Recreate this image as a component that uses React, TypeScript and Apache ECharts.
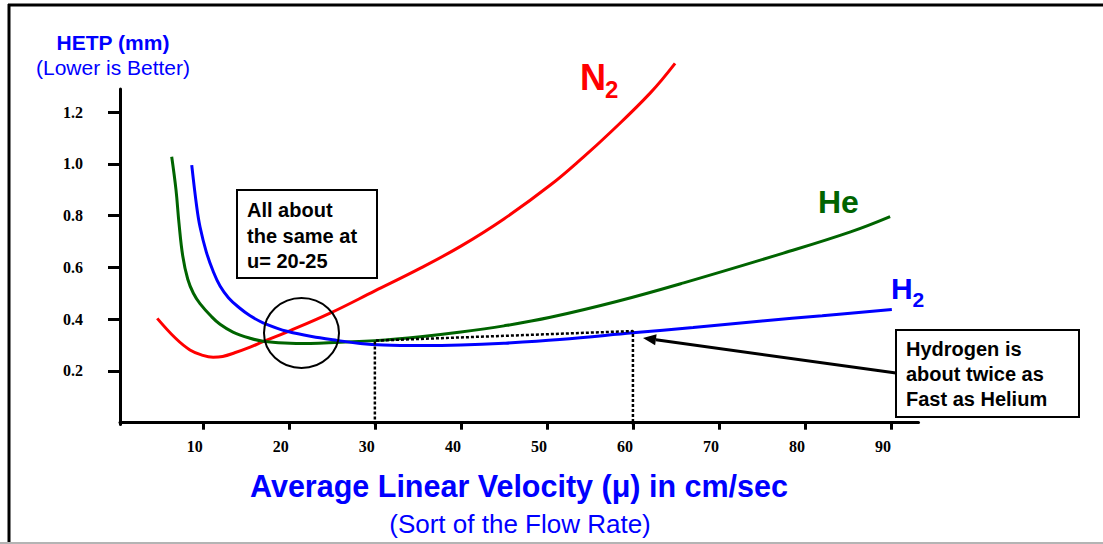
import React, { useEffect, useRef } from "react";
import * as echarts from "echarts";

// ---------- data ----------
const xTickValues = [10, 20, 30, 40, 50, 60, 70, 80, 90];
const yTickValues = [0.2, 0.4, 0.6, 0.8, 1.0, 1.2];

const n2Velocity = [4.7, 6.8, 8.5, 10.0, 11.2, 12.3, 13.7, 15.5, 17.0, 19.9, 24.8, 30.0, 35.3, 40.0, 45.0, 50.4, 54.2, 57.3, 62.0, 64.9];
const n2Hetp = [0.403, 0.327, 0.281, 0.26, 0.253, 0.256, 0.27, 0.292, 0.313, 0.352, 0.423, 0.509, 0.597, 0.682, 0.787, 0.918, 1.025, 1.119, 1.273, 1.388];

const heVelocity = [6.38, 6.88, 7.23, 7.66, 8.24, 8.9, 9.67, 11.0, 12.0, 13.5, 15.5, 17.0, 19.5, 22.5, 25.9, 30.0, 35.3, 40.0, 45.0, 50.4, 58.1, 65.9, 77.5, 85.3, 89.9];
const heHetp = [1.027, 0.899, 0.77, 0.645, 0.555, 0.5, 0.46, 0.41, 0.38, 0.35, 0.326, 0.315, 0.308, 0.306, 0.311, 0.317, 0.332, 0.35, 0.374, 0.407, 0.468, 0.54, 0.655, 0.737, 0.796];

const h2Velocity = [8.71, 9.29, 9.67, 10.4, 11.2, 12.0, 13.0, 14.2, 15.5, 17.0, 19.9, 23.6, 25.6, 28.3, 31.0, 35.3, 40.0, 45.0, 51.5, 60.0, 67.0, 75.0, 82.0, 90.1];
const h2Hetp = [0.995, 0.834, 0.757, 0.66, 0.585, 0.528, 0.482, 0.445, 0.413, 0.386, 0.352, 0.328, 0.318, 0.306, 0.3, 0.298, 0.3, 0.307, 0.321, 0.347, 0.368, 0.393, 0.413, 0.437];

const guideVelocity = [30, 30, 60, 60];
const guideHetp = [-0.007, 0.317, 0.354, -0.007];

const zip = (xs: number[], ys: number[]) => xs.map((x, i) => [x, ys[i]]);

const SANS = "'Liberation Sans', Arial, sans-serif";
const SERIF = "'Liberation Serif', 'Times New Roman', serif";

export default function App() {
  const ref = useRef<HTMLDivElement>(null);

  useEffect(() => {
    if (!ref.current) return;
    const chart = echarts.init(ref.current, undefined, { renderer: "svg" });

    const arrowTip = [643, 338];
    const arrowStart = [896, 373];
    const dx = arrowStart[0] - arrowTip[0];
    const dy = arrowStart[1] - arrowTip[1];
    const len = Math.hypot(dx, dy);
    const ux = dx / len, uy = dy / len;
    const headLen = 13, headHalf = 5.5;
    const bx = arrowTip[0] + ux * headLen, by = arrowTip[1] + uy * headLen;

    const curve = (name: string, xs: number[], ys: number[], color: string, z: number) => ({
      name,
      type: "line",
      data: zip(xs, ys),
      smooth: 0.4,
      showSymbol: false,
      clip: false,
      lineStyle: { color, width: 3 },
      z,
    });

    chart.setOption({
      animation: false,
      backgroundColor: "#ffffff",
      grid: { left: 120, right: 184.5, top: 89, bottom: 119.5, containLabel: false },
      xAxis: {
        type: "value",
        min: 0.37,
        max: 93.2,
        axisLine: { show: true, lineStyle: { color: "#000", width: 3 } },
        axisTick: { show: true, customValues: xTickValues, length: 7, lineStyle: { color: "#000", width: 3 } },
        axisLabel: {
          customValues: xTickValues,
          color: "#000",
          fontFamily: SERIF,
          fontWeight: "bold",
          fontSize: 16,
          margin: 14,
          padding: [0, 16, 0, 0],
          formatter: (v: number) => String(v),
        },
        splitLine: { show: false },
      },
      yAxis: {
        type: "value",
        min: -0.007,
        max: 1.289,
        axisLine: { show: true, lineStyle: { color: "#000", width: 3 } },
        axisTick: { show: true, customValues: yTickValues, length: 12, lineStyle: { color: "#000", width: 3 } },
        axisLabel: {
          customValues: yTickValues,
          color: "#000",
          fontFamily: SERIF,
          fontWeight: "bold",
          fontSize: 16,
          margin: 37,
          formatter: (v: number) => v.toFixed(1),
        },
        splitLine: { show: false },
      },
      series: [
        curve("N2", n2Velocity, n2Hetp, "#ff0000", 3),
        curve("He", heVelocity, heHetp, "#006400", 3),
        curve("H2", h2Velocity, h2Hetp, "#0000ff", 4),
        {
          name: "guide",
          type: "line",
          data: zip(guideVelocity, guideHetp),
          showSymbol: false,
          lineStyle: { color: "#000", width: 2.5, type: [3, 2] },
          z: 5,
        },
      ],
      graphic: [
        // outer frame
        { type: "line", shape: { x1: 8, y1: 5, x2: 1103, y2: 5 }, style: { stroke: "#000", lineWidth: 3 }, silent: true },
        { type: "line", shape: { x1: 9, y1: 4, x2: 9, y2: 544 }, style: { stroke: "#000", lineWidth: 3 }, silent: true },
        { type: "line", shape: { x1: 0, y1: 543, x2: 1103, y2: 543 }, style: { stroke: "#b4b4b4", lineWidth: 2 }, silent: true },
        // y axis title
        { type: "text", x: 113, y: 42, style: { text: "HETP (mm)", font: `bold 21px ${SANS}`, fill: "#0000ff", align: "center", verticalAlign: "middle" } },
        { type: "text", x: 113, y: 67, style: { text: "(Lower is Better)", font: `21px ${SANS}`, fill: "#0000ff", align: "center", verticalAlign: "middle" } },
        // x axis title
        { type: "text", x: 519, y: 486, style: { text: "Average Linear Velocity (\u03bc) in cm/sec", font: `bold 30.5px ${SANS}`, fill: "#0000ff", align: "center", verticalAlign: "middle" } },
        { type: "text", x: 520, y: 524, style: { text: "(Sort of the Flow Rate)", font: `26px ${SANS}`, fill: "#0000ff", align: "center", verticalAlign: "middle" } },
        // series labels
        { type: "text", x: 580, y: 77, style: { text: "N", font: `bold 36px ${SANS}`, fill: "#ff0000", align: "left", verticalAlign: "middle" } },
        { type: "text", x: 605, y: 89, style: { text: "2", font: `bold 24px ${SANS}`, fill: "#ff0000", align: "left", verticalAlign: "middle" } },
        { type: "text", x: 818, y: 202, style: { text: "He", font: `bold 32px ${SANS}`, fill: "#006400", align: "left", verticalAlign: "middle" } },
        { type: "text", x: 891, y: 288, style: { text: "H", font: `bold 30px ${SANS}`, fill: "#0000ff", align: "left", verticalAlign: "middle" } },
        { type: "text", x: 912.5, y: 299, style: { text: "2", font: `bold 21px ${SANS}`, fill: "#0000ff", align: "left", verticalAlign: "middle" } },
        // circle annotation
        { type: "ellipse", shape: { cx: 301.5, cy: 333, rx: 37.5, ry: 35 }, style: { fill: "none", stroke: "#000", lineWidth: 2 }, z: 10 },
        // box 1
        { type: "rect", shape: { x: 237, y: 190, width: 140, height: 88 }, style: { fill: "#fff", stroke: "#000", lineWidth: 2 }, z: 10 },
        { type: "text", x: 247, y: 235.5, z: 11, style: { text: "All about\nthe same at\nu= 20-25", font: `bold 20px ${SANS}`, lineHeight: 25.5, fill: "#000", align: "left", verticalAlign: "middle" } },
        // box 2
        { type: "rect", shape: { x: 896, y: 330, width: 183, height: 87 }, style: { fill: "#fff", stroke: "#000", lineWidth: 2 }, z: 10 },
        { type: "text", x: 906, y: 374, z: 11, style: { text: "Hydrogen is\nabout twice as\nFast as Helium", font: `bold 20px ${SANS}`, lineHeight: 25, fill: "#000", align: "left", verticalAlign: "middle" } },
        // arrow
        { type: "line", shape: { x1: arrowStart[0], y1: arrowStart[1], x2: bx, y2: by }, style: { stroke: "#000", lineWidth: 3 }, z: 10 },
        {
          type: "polygon",
          shape: {
            points: [
              [arrowTip[0], arrowTip[1]],
              [bx - uy * headHalf, by + ux * headHalf],
              [bx + uy * headHalf, by - ux * headHalf],
            ],
          },
          style: { fill: "#000" },
          z: 10,
        },
      ],
    });

    return () => chart.dispose();
  }, []);

  return (
    <div
      ref={ref}
      style={{ position: "fixed", left: 0, top: 0, width: 1103, height: 544, background: "#fff" }}
    />
  );
}
